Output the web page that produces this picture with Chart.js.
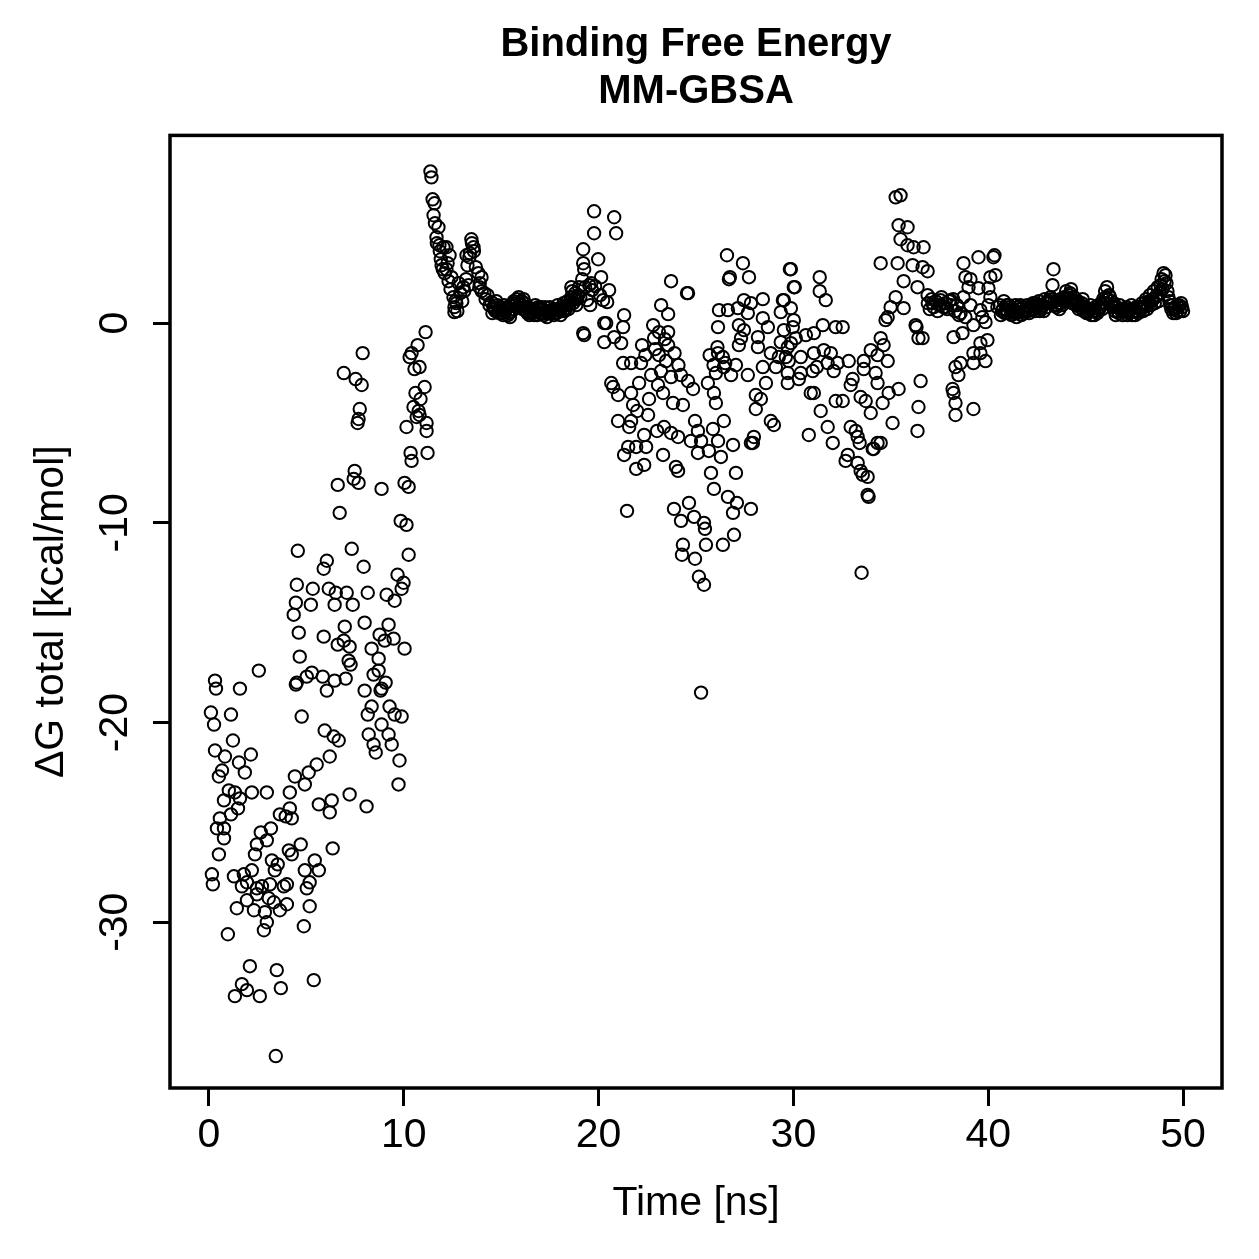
<!DOCTYPE html>
<html>
<head>
<meta charset="utf-8">
<title>Binding Free Energy MM-GBSA</title>
<script src="https://cdn.jsdelivr.net/npm/chart.js@4.4.1/dist/chart.umd.min.js"></script>
<style>
  html, body { margin: 0; padding: 0; background: #fff; }
  canvas { display: block; }
</style>
</head>
<body>
<canvas id="dgChart" width="1259" height="1259"></canvas>
<script>
// time [ns] and dG total [kcal/mol], split by phase of the run

// 0 - 11.2 ns: binding, large scatter
const rampTime = [
  0.10, 0.26, 0.36, 0.31, 0.51, 0.67, 0.82, 0.77, 0.56, 0.41,
  0.77, 0.77, 0.51, 0.15, 0.20, 0.97, 0.31, 1.02, 1.13, 1.23,
  1.13, 1.33, 1.49, 1.54, 1.59, 1.59, 1.28, 1.79, 1.69, 1.43,
  1.84, 1.95, 1.95, 1.69, 1.95, 1.33, 2.15, 2.20, 2.20, 2.10,
  2.31, 2.36, 2.46, 2.46, 2.46, 2.56, 2.61, 2.66, 2.72, 2.82,
  2.87, 2.97, 2.97, 2.97, 3.07, 3.13, 3.18, 3.23, 3.33, 3.38,
  3.43, 3.48, 3.53, 3.64, 3.64, 3.69, 3.84, 3.94, 4.00, 4.00,
  4.10, 4.15, 4.15, 4.25, 4.25, 4.35, 4.41, 4.46, 4.46, 4.51,
  4.51, 4.56, 4.61, 4.66, 4.71, 4.76, 4.87, 4.92, 4.92, 5.02,
  5.02, 5.12, 5.17, 5.17, 5.23, 5.28, 5.33, 5.38, 5.43, 5.53,
  5.64, 5.64, 5.84, 5.89, 5.89, 5.94, 6.05, 6.05, 6.15, 6.20,
  6.20, 6.30, 6.35, 6.40, 6.45, 6.45, 6.51, 6.61, 6.61, 6.66,
  6.71, 6.92, 6.92, 6.97, 7.02, 7.07, 7.17, 7.22, 7.22, 7.27,
  7.33, 7.38, 7.43, 7.48, 7.53, 7.63, 7.68, 7.68, 7.74, 7.84,
  7.89, 7.94, 7.99, 7.99, 8.09, 8.15, 8.15, 8.20, 8.35, 8.35,
  8.45, 8.45, 8.56, 8.71, 8.71, 8.76, 8.81, 8.86, 8.86, 8.86,
  9.02, 9.07, 9.12, 9.22, 9.22, 9.27, 9.38, 9.48, 9.53, 9.53,
  9.68, 9.73, 9.78, 9.84, 9.89, 9.89, 9.99, 10.04, 10.04, 10.14,
  10.14, 10.25, 10.25, 10.30, 10.35, 10.40, 10.40, 10.50, 10.55, 10.60,
  10.66, 10.71, 10.76, 10.81, 10.81, 10.86, 11.07, 11.12, 11.17, 11.17, 11.22
];
const rampDg = [
  -19.5, -20.1, -18.3, -21.4, -22.7, -22.4, -21.7, -23.9, -24.8, -25.3,
  -25.3, -25.8, -26.6, -27.6, -28.1, -30.6, -17.9, -23.4, -19.6, -20.9,
  -24.6, -23.5, -24.3, -22.0, -18.3, -23.8, -27.7, -27.6, -28.2, -29.3,
  -22.5, -28.0, -28.9, -33.1, -33.4, -33.7, -21.6, -23.5, -27.4, -32.2,
  -29.4, -26.6, -26.1, -28.3, -28.6, -17.4, -33.7, -25.5, -28.2, -30.4,
  -29.5, -23.5, -25.9, -30.0, -28.8, -28.1, -25.3, -26.9, -29.0, -27.4,
  -36.7, -32.4, -27.1, -29.4, -24.6, -33.3, -28.2, -24.7, -28.1, -29.1,
  -26.4, -23.5, -24.3, -24.8, -26.6, -14.6, -22.7, -18.1, -14.0, -13.1,
  -18.0, -11.4, -15.5, -16.7, -26.1, -19.7, -30.2, -23.1, -27.4, -17.7,
  -28.3, -22.5, -28.0, -29.2, -14.1, -17.5, -13.3, -32.9, -26.9, -22.1,
  -24.1, -27.4, -17.7, -12.3, -15.7, -20.4, -11.9, -18.4, -13.3, -21.7,
  -24.5, -23.9, -26.3, -20.7, -14.1, -17.9, -13.5, -8.1, -16.1, -20.9,
  -9.5, -2.5, -15.9, -15.2, -17.8, -13.5, -16.9, -16.2, -23.6, -17.1,
  -11.3, -14.1, -7.8, -7.4, -2.8, -5.0, -4.8, -8.0, -4.3, -3.1,
  -1.5, -12.2, -15.0, -18.4, -24.2, -13.5, -19.6, -20.6, -16.3, -19.2,
  -17.6, -21.1, -21.5, -16.8, -17.4, -15.6, -18.4, -8.3, -18.3, -20.1,
  -15.9, -18.0, -13.6, -15.1, -20.6, -19.2, -21.1, -15.8, -13.9, -19.6,
  -12.6, -23.1, -21.9, -9.9, -13.3, -19.7, -13.0, -8.0, -16.3, -10.1,
  -5.2, -8.2, -11.6, -1.7, -6.5, -6.9, -1.5, -4.2, -2.3, -3.5,
  -4.7, -1.1, -4.4, -2.2, -4.6, -3.8, -3.2, -0.45, -5.0, -5.4, -6.5
];

// 11.3 - 14.5 ns: jump and relaxation
const jumpTime = [
  11.37, 11.42, 11.48, 11.58, 11.53, 11.60, 11.68, 11.70, 11.78, 11.83,
  11.85, 11.90, 11.94, 12.00, 12.04, 12.10, 12.19, 12.19, 12.25, 12.30,
  12.35, 12.40, 12.45, 12.55, 12.60, 12.60, 12.65, 12.70, 12.75, 12.81,
  12.90, 13.00, 13.06, 13.10, 13.20, 13.22, 13.27, 13.32, 13.37, 13.40,
  13.47, 13.50, 13.58, 13.60, 13.70, 13.83, 13.88, 13.90, 13.99, 14.00,
  14.14, 14.20, 14.30, 14.40, 14.50
];
const jumpDg = [
  7.6, 7.3, 6.2, 6.0, 5.4, 5.0, 4.3, 4.0, 4.8, 3.9,
  3.6, 3.2, 2.9, 2.7, 3.8, 2.5, 3.8, 2.7, 3.0, 2.1,
  3.4, 1.7, 2.3, 1.3, 0.8, 0.55, 1.1, 1.0, 0.6, 2.0,
  1.5, 1.1, 1.8, 1.6, 2.2, 3.4, 2.9, 1.9, 3.3, 3.5,
  4.2, 4.0, 3.8, 3.6, 2.8, 2.5, 1.8, 2.0, 2.3, 1.6,
  1.5, 1.2, 1.4, 0.9, 1.05
];

// 14.5 - 19 ns: first plateau
const plateauTime = [
  14.55, 14.6, 14.7, 14.75, 14.8, 14.9, 14.95, 15.0, 15.1, 15.15,
  15.2, 15.3, 15.4, 15.45, 15.5, 15.6, 15.65, 15.7, 15.8, 15.85,
  15.9, 16.0, 16.1, 16.15, 16.2, 16.3, 16.4, 16.45, 16.5, 16.6,
  16.7, 16.75, 16.8, 16.9, 17.0, 17.05, 17.1, 17.2, 17.3, 17.35,
  17.4, 17.5, 17.55, 17.6, 17.7, 17.8, 17.85, 17.9, 18.0, 18.05,
  18.1, 18.2, 18.25, 18.3, 18.4, 18.45, 18.5, 18.6, 18.65, 18.7,
  18.8, 18.85, 18.9, 19.0,
  14.65, 14.85, 15.05, 15.25, 15.35, 15.55, 15.75, 15.95, 16.05, 16.25,
  16.35, 16.55, 16.65, 16.85, 16.95, 17.15, 17.25, 17.45, 17.65, 17.75,
  17.95, 18.15, 18.35, 18.55, 18.75, 18.95
];
const plateauDg = [
  0.5, 0.8, 0.6, 1.1, 0.9, 0.5, 0.8, 0.7, 0.4, 0.9,
  0.6, 0.8, 0.5, 0.3, 0.9, 0.7, 1.1, 1.0, 1.2, 0.8,
  1.3, 0.9, 0.7, 1.2, 1.0, 0.6, 0.8, 0.4, 0.5, 0.7,
  0.4, 0.9, 0.6, 0.8, 0.5, 0.8, 0.7, 0.4, 0.6, 0.3,
  0.5, 0.8, 0.5, 0.6, 0.4, 0.7, 0.5, 0.9, 0.6, 0.4,
  0.8, 1.0, 0.6, 0.7, 1.1, 0.7, 0.9, 1.3, 1.6, 1.0,
  1.5, 0.9, 1.2, 1.8,
  0.7, 0.6, 0.5, 0.7, 0.4, 0.6, 0.9, 1.0, 1.1, 0.8,
  0.5, 0.6, 0.5, 0.4, 0.7, 0.5, 0.8, 0.6, 0.7, 0.5,
  0.7, 0.6, 0.9, 1.1, 1.2, 1.4
];

// 18.6 - 30.3 ns: unbinding excursion
const middleTime = [
  18.60, 19.21, 19.21, 19.26, 19.77, 19.77, 19.98, 19.62, 20.13, 19.21,
  20.29, 20.29, 20.65, 20.80, 20.90, 19.16, 19.31, 19.52, 19.67, 19.82,
  20.08, 20.23, 20.44, 20.54, 19.41, 19.06, 19.57, 19.26, 20.39, 20.80,
  21.16, 21.31, 21.26, 20.75, 21.00, 21.67, 22.08, 21.77, 21.98, 22.59,
  21.00, 21.67, 22.54, 21.57, 22.34, 21.52, 21.93, 22.44, 21.31, 21.93,
  22.34, 21.46, 22.23, 22.18, 21.26, 21.67, 22.80, 23.10, 22.85, 23.21,
  23.57, 23.57, 23.57, 23.10, 23.46, 23.72, 24.54, 24.59, 23.72, 24.23,
  24.59, 24.85, 23.82, 24.33, 23.31, 23.05, 23.36, 23.00, 23.72, 24.08,
  24.95, 25.10, 24.74, 25.26, 23.31, 23.97, 24.08, 25.10, 26.28, 26.90,
  27.82, 25.61, 26.02, 25.92, 26.02, 26.43, 25.87, 26.13, 25.66, 23.87,
  24.64, 24.23, 24.90, 25.41, 25.46, 24.33, 24.28, 24.95, 25.51, 26.38,
  26.95, 27.82, 26.90, 27.10, 26.64, 25.92, 25.77, 27.05, 25.15, 25.41,
  25.26, 26.59, 27.41, 27.72, 26.69, 26.74, 26.18, 26.64, 27.15, 27.46,
  27.82, 28.43, 27.66, 27.20, 27.46, 26.13, 27.31, 28.18, 28.43, 28.69,
  27.20, 28.18, 26.13, 26.38, 27.05, 26.43, 27.66, 28.43, 28.59, 28.07,
  28.33, 28.07, 28.84, 29.00, 27.97, 27.92, 29.87, 30.02, 29.46, 29.87,
  29.35, 30.02, 29.51, 29.35, 29.71, 29.25, 29.76, 28.84, 29.10, 29.71,
  29.71, 30.28, 22.90, 23.20, 22.70, 23.40, 22.40, 23.90, 24.10, 25.70,
  26.10, 26.50, 26.80, 25.90
];
const middleDg = [
  1.8, 3.7, 3.0, 2.7, 5.6, 4.5, 3.2, 2.0, 2.3, -0.5,
  0.0, -0.95, -3.0, 5.3, 4.5, 2.2, 1.8, 1.9, 1.65, 1.85,
  1.4, 1.15, 1.05, 1.65, 1.15, 1.3, 0.9, -0.6, 0.0, -0.7,
  -1.0, 0.4, -0.2, -3.2, -3.6, -3.5, -3.0, -4.1, -4.4, -3.8,
  -4.9, -4.9, -4.6, -5.2, -5.6, -6.2, -6.2, -6.2, -6.6, -7.3,
  -7.1, -9.4, -1.1, -2.0, -2.0, -2.0, -0.1, -0.45, -0.75, 0.9,
  0.45, -0.45, -1.1, -1.6, -1.9, 2.1, 1.5, 1.5, -2.7, -2.6,
  -2.9, -3.3, -4.0, -4.1, -3.5, -3.1, -5.2, -5.4, -5.5, -5.7,
  -4.9, -5.4, -5.9, -5.9, -6.6, -7.2, -7.4, -6.5, -6.7, -6.1,
  -6.0, -3.0, -2.5, -3.5, -4.0, -4.9, -5.3, -5.9, -6.4, -9.3,
  -9.0, -9.9, -9.7, -10.0, -10.3, -11.1, -11.6, -11.8, -11.1, -11.1,
  -10.6, -9.3, -9.5, -9.0, -8.7, -8.3, -7.5, -7.5, -12.7, -13.1,
  -18.5, 3.4, 3.0, 2.3, 2.2, 2.3, 0.65, 0.65, 0.75, 1.15,
  1.0, 1.2, 0.5, -0.1, -0.35, -0.2, -0.75, -0.7, 0.25, -0.2,
  -1.1, -1.2, -1.5, -1.7, -2.1, -2.2, -2.6, -2.2, -3.0, -3.6,
  -3.8, -4.3, -4.9, -5.1, -5.7, -6.0, 2.7, 1.8, 1.15, 0.75,
  0.55, 0.15, -0.35, -0.95, -1.2, -1.7, -1.9, -1.5, -2.2, -2.5,
  -3.0, -2.8, -1.3, -2.4, -2.6, -0.8, -1.6, -1.5, -2.1, -1.6,
  -1.2, -2.0, -2.6, -2.1
];

// 29.5 - 40.6 ns: second excursion and rebinding
const lateTime = [
  35.25, 35.50, 35.40, 35.86, 35.50, 35.86, 36.17, 36.68, 34.48, 35.35,
  36.12, 36.63, 36.89, 35.66, 36.37, 36.89, 37.14, 37.55, 38.06, 37.81,
  35.25, 34.99, 35.66, 34.84, 34.73, 36.27, 36.63, 34.48, 33.97, 34.63,
  34.32, 34.84, 33.61, 33.61, 34.22, 34.32, 33.04, 32.94, 32.84, 33.45,
  33.71, 34.89, 35.40, 34.58, 33.97, 35.09, 36.37, 36.53, 36.42, 34.32,
  34.48, 34.12, 32.94, 33.20, 33.30, 33.40, 32.79, 32.02, 30.79, 31.76,
  31.40, 32.53, 32.17, 31.05, 30.89, 30.38, 30.99, 31.20, 31.76, 32.27,
  31.56, 31.92, 32.07, 31.05, 30.38, 29.61, 29.87, 30.12, 30.64, 31.05,
  31.51, 32.17, 32.53, 29.97, 29.51, 29.82, 30.07, 31.35, 31.35, 31.66,
  32.68, 33.30, 33.45, 33.56, 33.81, 33.81, 33.86, 33.50, 34.07, 38.73,
  39.50, 40.27, 40.32, 38.83, 39.09, 40.11, 40.37, 38.99, 39.50, 40.01,
  40.11, 38.73, 39.09, 39.60, 40.01, 38.58, 38.83, 39.70, 39.24, 39.86,
  40.47, 38.22, 38.68, 39.96, 39.60, 39.24, 39.60, 39.86, 39.24, 38.32,
  38.58, 38.47, 38.17, 38.22, 38.32, 38.32, 39.24, 36.32, 36.42, 36.90,
  37.00, 37.10, 37.20, 37.30, 37.40, 37.50, 37.60, 37.70, 37.80, 37.90,
  38.00, 38.10, 38.20, 38.30, 38.40, 38.50
];
const lateDg = [
  6.3, 6.4, 4.9, 4.8, 4.2, 3.9, 3.8, 3.8, 3.0, 3.0,
  2.9, 2.8, 2.6, 2.1, 1.8, 1.4, 1.0, 1.15, 1.15, 0.8,
  1.3, 0.8, 0.75, 0.3, 0.15, -0.1, -0.75, -0.75, -1.35, -1.1,
  -1.6, -1.9, -1.9, -2.3, -2.5, -3.0, -2.8, -3.1, -1.9, -3.7,
  -3.9, -3.5, -3.3, -4.0, -4.5, -5.0, -5.4, -2.9, -4.2, -6.0,
  -6.0, -6.3, -5.2, -5.4, -5.7, -6.0, -6.6, -6.0, -5.6, -5.2,
  -4.4, -3.9, -3.9, -3.5, -3.5, -2.5, -2.4, -2.2, -2.0, -2.0,
  -1.35, -1.5, -2.4, -1.5, -1.7, -1.7, -1.0, -0.75, -0.6, -0.5,
  -0.1, -0.2, -0.2, -0.2, 1.15, 2.7, 1.8, 2.3, 1.6, 1.15,
  -6.9, -7.0, -7.4, -7.6, -7.7, -8.6, -8.7, -12.5, -6.3, 3.0,
  3.3, 3.3, 3.4, 2.3, 2.2, 2.3, 2.4, 1.8, 1.75, 1.75,
  1.3, 1.3, 0.9, 0.65, 0.9, 0.5, 0.3, 0.3, -0.1, 0.05,
  0.8, -0.7, -0.5, -0.85, -1.0, -1.5, -1.5, -1.9, -2.0, -2.2,
  -2.0, -2.6, -3.3, -3.5, -4.0, -4.6, -4.3, -0.2, -0.75, 1.0,
  0.7, 1.2, 0.8, 1.1, 0.6, 0.9, 1.3, 0.8, 1.0, 0.7,
  1.1, 0.9, 1.2, 0.6, 0.9, 0.4
];

// 40.6 - 50 ns: final plateau
const endTime = [
  40.60, 40.65, 40.70, 40.80, 40.85, 40.90, 41.00, 41.05, 41.10, 41.20,
  41.25, 41.30, 41.40, 41.45, 41.50, 41.60, 41.65, 41.70, 41.80, 41.85,
  41.90, 42.00, 42.05, 42.10, 42.20, 42.25, 42.30, 42.40, 42.45, 42.50,
  42.60, 42.65, 42.70, 42.80, 42.85, 42.90, 43.00, 43.05, 43.10, 43.20,
  43.30, 43.35, 43.40, 43.45, 43.50, 43.60, 43.65, 43.70, 43.80, 43.85,
  43.90, 44.00, 44.05, 44.10, 44.20, 44.25, 44.30, 44.40, 44.45, 44.50,
  44.60, 44.65, 44.70, 44.80, 44.85, 44.90, 45.00, 45.05, 45.10, 45.20,
  45.25, 45.30, 45.40, 45.45, 45.50, 45.60, 45.65, 45.70, 45.80, 45.85,
  45.90, 46.00, 46.05, 46.10, 46.15, 46.20, 46.30, 46.35, 46.40, 46.50,
  46.55, 46.60, 46.70, 46.75, 46.80, 46.90, 46.95, 47.00, 47.10, 47.15,
  47.20, 47.30, 47.35, 47.40, 47.50, 47.55, 47.60, 47.70, 47.75, 47.80,
  47.90, 47.95, 48.00, 48.10, 48.15, 48.20, 48.30, 48.35, 48.40, 48.50,
  48.55, 48.60, 48.70, 48.75, 48.80, 48.90, 48.95, 49.00, 49.05, 49.10,
  49.15, 49.20, 49.25, 49.30, 49.40, 49.45, 49.50, 49.60, 49.65, 49.70,
  49.80, 49.85, 49.90, 49.95, 50.00,
  40.75, 40.95, 41.15, 41.35, 41.55, 41.75, 41.95, 42.15, 42.35, 42.55,
  42.75, 42.95, 43.15, 43.25, 43.55, 43.75, 43.95, 44.15, 44.35, 44.55,
  44.75, 44.95, 45.15, 45.35, 45.55, 45.75, 45.95, 46.25, 46.45, 46.65,
  46.85, 47.05, 47.25, 47.45, 47.65, 47.85, 48.05, 48.25, 48.45, 48.65,
  48.85, 49.35, 49.55, 49.75
];
const endDg = [
  0.9, 0.4, 0.6, 1.1, 0.5, 0.7, 0.5, 0.9, 0.8, 0.4,
  0.7, 0.6, 0.9, 0.3, 0.5, 0.7, 0.9, 0.4, 0.8, 0.5,
  0.6, 0.9, 0.6, 0.5, 0.7, 0.9, 1.0, 0.6, 1.0, 0.8,
  1.1, 0.6, 0.7, 0.9, 0.6, 1.2, 0.8, 1.1, 1.0, 1.3,
  1.9, 2.7, 1.1, 0.9, 0.8, 1.0, 0.7, 1.2, 0.9, 1.1,
  1.3, 1.6, 1.3, 1.2, 1.5, 1.7, 1.0, 1.3, 1.1, 0.9,
  1.1, 0.7, 0.8, 1.0, 1.2, 0.6, 0.8, 0.5, 0.5, 0.7,
  0.9, 0.4, 0.6, 0.4, 0.8, 0.5, 0.9, 0.7, 1.0, 0.7,
  1.2, 1.6, 1.3, 1.8, 1.2, 1.4, 1.1, 0.9, 0.8, 0.6,
  0.4, 0.8, 0.5, 0.9, 0.7, 0.4, 0.7, 0.6, 0.8, 0.4,
  0.5, 0.7, 0.9, 0.4, 0.6, 0.4, 0.8, 0.5, 0.8, 0.7,
  1.0, 0.6, 0.8, 1.2, 0.7, 0.9, 1.4, 0.9, 1.1, 1.6,
  1.0, 1.3, 1.8, 1.1, 1.5, 2.2, 1.7, 2.5, 2.1, 2.4,
  2.0, 1.6, 1.3, 1.1, 0.7, 0.9, 0.5, 0.8, 0.5, 0.6,
  0.9, 0.6, 1.0, 0.8, 0.6,
  0.7, 0.9, 0.6, 0.5, 0.8, 0.6, 0.7, 0.8, 0.7, 0.9,
  0.8, 1.0, 1.1, 1.2, 0.9, 1.0, 1.2, 1.4, 1.2, 1.0,
  0.9, 0.8, 0.6, 0.7, 0.6, 0.8, 1.0, 1.3, 1.0, 0.6,
  0.6, 0.7, 0.6, 0.6, 0.6, 0.8, 1.0, 1.1, 1.2, 1.4,
  1.9, 0.9, 0.7, 0.8
];

const xTicks = [0, 10, 20, 30, 40, 50];
const yTicks = [-30, -20, -10, 0];

const FONT = '"Liberation Sans", Arial, Helvetica, sans-serif';

function toPoints(times, values) {
    return times.map((t, i) => ({ x: t, y: values[i] }));
}

const allPoints = [].concat(
    toPoints(rampTime, rampDg),
    toPoints(jumpTime, jumpDg),
    toPoints(plateauTime, plateauDg),
    toPoints(middleTime, middleDg),
    toPoints(lateTime, lateDg),
    toPoints(endTime, endDg)
);

// R style box round the plot region
const boxPlugin = {
    id: 'plotBox',
    afterDraw(chart) {
        const { ctx, chartArea } = chart;
        ctx.save();
        ctx.strokeStyle = '#000';
        ctx.lineWidth = 3.5;
        ctx.strokeRect(chartArea.left, chartArea.top, chartArea.right - chartArea.left, chartArea.bottom - chartArea.top);
        ctx.restore();
    }
};

const ctx = document.getElementById('dgChart').getContext('2d');

new Chart(ctx, {
    type: 'scatter',
    data: {
        datasets: [{
            label: 'dG total',
            data: allPoints,
            pointStyle: 'circle',
            pointRadius: 6.2,
            pointBorderWidth: 2,
            pointBorderColor: '#000',
            pointBackgroundColor: 'rgba(0,0,0,0)'
        }]
    },
    options: {
        responsive: false,
        animation: false,
        layout: { padding: { left: 0, right: 37, top: 0, bottom: 0 } },
        plugins: {
            legend: { display: false },
            tooltip: { enabled: false },
            title: {
                display: true,
                fullSize: false,
                text: ['Binding Free Energy', 'MM-GBSA'],
                color: '#000',
                font: { family: FONT, size: 40, weight: 'bold', lineHeight: 1.18 },
                padding: { top: 21, bottom: 20 }
            }
        },
        scales: {
            x: {
                type: 'linear',
                min: -2,
                max: 52,
                border: { display: false },
                grid: { drawOnChartArea: false, drawTicks: true, tickLength: 18, color: '#000', lineWidth: 3 },
                afterBuildTicks: scale => { scale.ticks = xTicks.map(v => ({ value: v })); },
                ticks: { color: '#000', font: { family: FONT, size: 41 }, padding: 5, maxRotation: 0, autoSkip: false },
                title: { display: true, text: 'Time [ns]', color: '#000', font: { family: FONT, size: 41 }, padding: { top: 0, bottom: 31 } },
                afterFit: scale => { scale.height = 171; }
            },
            y: {
                type: 'linear',
                min: -38.3,
                max: 9.4,
                border: { display: false },
                grid: { drawOnChartArea: false, drawTicks: true, tickLength: 17, color: '#000', lineWidth: 3 },
                afterBuildTicks: scale => { scale.ticks = yTicks.map(v => ({ value: v })); },
                ticks: { color: '#000', font: { family: FONT, size: 41 }, padding: 8, minRotation: 90, maxRotation: 90, crossAlign: 'center', autoSkip: false },
                title: { display: true, text: 'ΔG total [kcal/mol]', color: '#000', font: { family: FONT, size: 41 }, padding: { top: 27, bottom: 0 } },
                afterFit: scale => { scale.width = 170; }
            }
        }
    },
    plugins: [boxPlugin]
});
</script>
</body>
</html>
